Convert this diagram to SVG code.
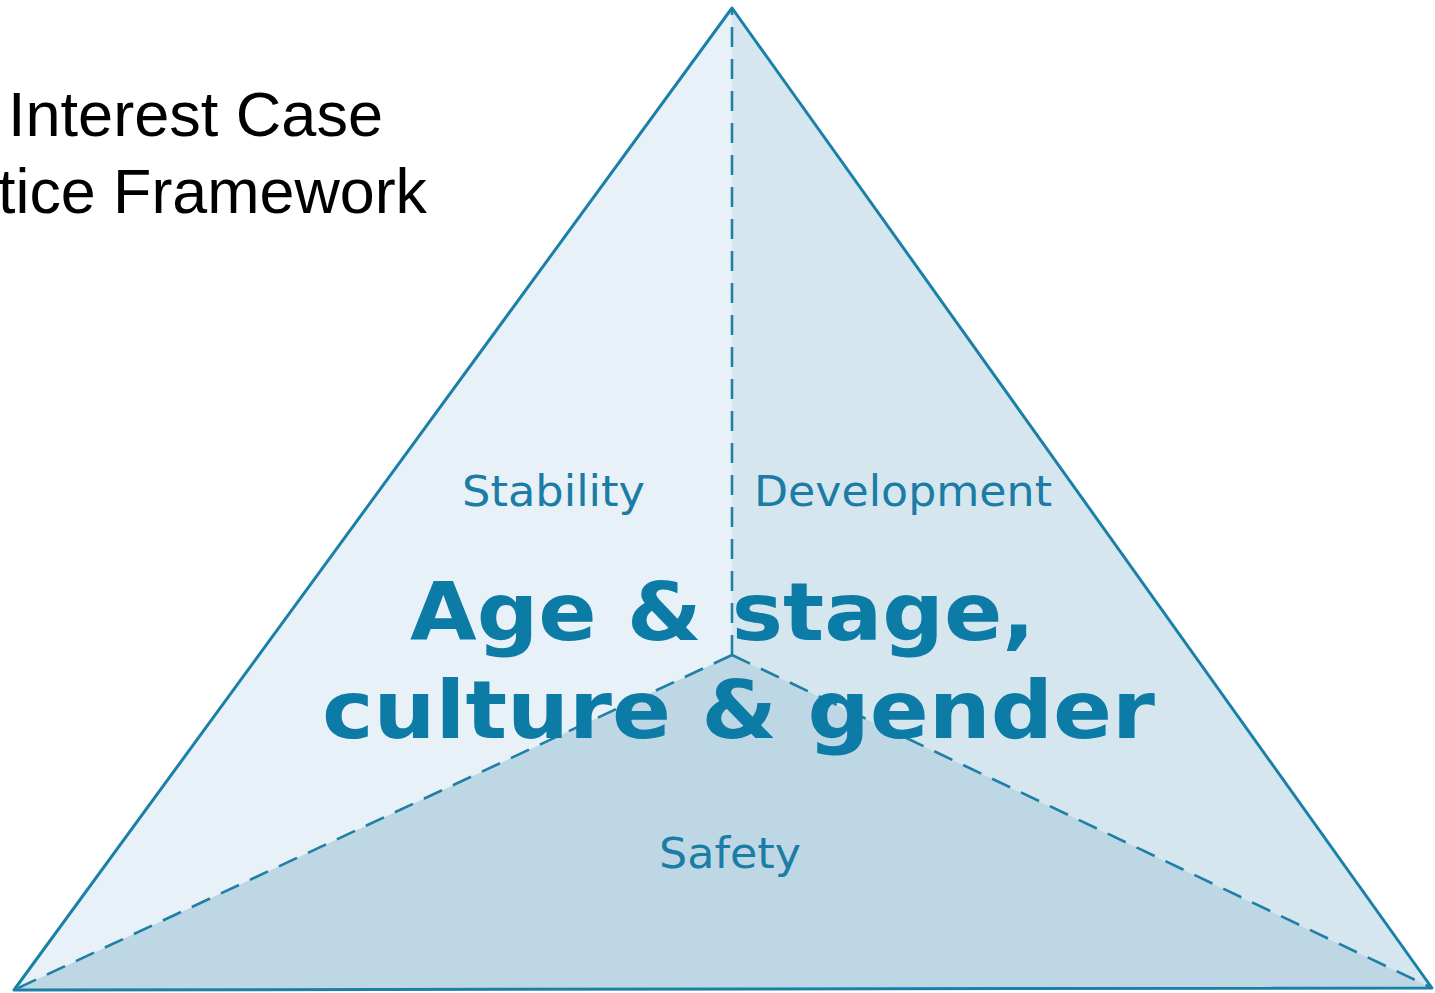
<svg xmlns="http://www.w3.org/2000/svg" width="1435" height="993" viewBox="0 0 1435 993">
<style>
.title{font-family:"Liberation Sans",Arial,sans-serif;font-size:63px;fill:#000}
.lbl{font-family:"DejaVu Sans",Verdana,sans-serif;font-size:42px;fill:#1b7ca5}
.big{font-family:"DejaVu Sans",Verdana,sans-serif;font-weight:bold;font-size:80px;fill:#0c7ba6}
.edge{fill:none;stroke:#1b80a8;stroke-width:3;stroke-linejoin:round}
.dash{fill:none;stroke:#1f7fa6;stroke-width:2.6;stroke-dasharray:20 12}
</style>
<rect width="1435" height="993" fill="#fff"/>
<g id="title">
<text class="title" x="8" y="136" textLength="375" lengthAdjust="spacingAndGlyphs">Interest Case</text>
<text class="title" x="-2" y="213" textLength="429" lengthAdjust="spacingAndGlyphs">tice Framework</text>
</g>
<g id="face-stability"><polygon points="732,8 14,990 732,655" fill="#e7f1f7"/></g>
<g id="face-development"><polygon points="732,8 1432,988 732,655" fill="#d6e6ef"/></g>
<g id="face-safety"><polygon points="14,990 732,655 1432,988" fill="#bed7e4"/></g>
<g id="connectors">
<polygon class="edge" points="732,8 1432,988 14,990"/>
<line class="dash" x1="732" y1="655" x2="732" y2="10"/>
<line class="dash" x1="732" y1="655" x2="16" y2="989"/>
<line class="dash" x1="732" y1="655" x2="1430" y2="987"/>
</g>
<g id="labels">
<text class="lbl" x="462" y="506" textLength="183" lengthAdjust="spacingAndGlyphs">Stability</text>
<text class="lbl" x="754" y="506" textLength="298" lengthAdjust="spacingAndGlyphs">Development</text>
<text class="lbl" x="659" y="868" textLength="142" lengthAdjust="spacingAndGlyphs">Safety</text>
</g>
<g id="center-text">
<text class="big" x="410" y="640" textLength="625" lengthAdjust="spacingAndGlyphs">Age &amp; stage,</text>
<text class="big" x="322" y="738" textLength="833" lengthAdjust="spacingAndGlyphs">culture &amp; gender</text>
</g>
</svg>
